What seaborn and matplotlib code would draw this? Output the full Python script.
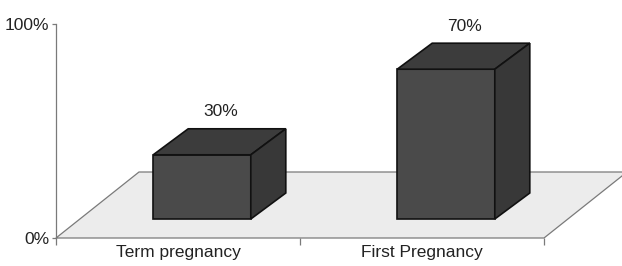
import matplotlib
matplotlib.use("Agg")
import matplotlib.pyplot as plt
import matplotlib.transforms as mtransforms
from matplotlib.patches import Polygon
import seaborn as sns
import pandas as pd

categories = ["Term pregnancy", "First Pregnancy"]
values = [30, 70]
value_labels = ["30%", "70%"]
ytick_values = [0, 100]
ytick_labels = ["0%", "100%"]

sns.set_theme(style="white")
plt.rcParams["font.family"] = ["Liberation Sans", "DejaVu Sans"]

DPI = 100
W, H = 622, 266
fig = plt.figure(figsize=(W / DPI, H / DPI), dpi=DPI)
ax = fig.add_axes([56 / W, 28 / H, 488 / W, 214 / H])

df = pd.DataFrame({"cat": categories, "val": values})
sns.barplot(data=df, x="cat", y="val", color="#4a4a4a", width=0.4,
            saturation=1, ax=ax, zorder=3)

ax.set_xlim(-0.5, 1.5)
ax.set_ylim(0, 100)
ax.set_xlabel("")
ax.set_ylabel("")

def px(dx, dy):
    return mtransforms.ScaledTranslation(dx / DPI, dy / DPI, fig.dpi_scale_trans)

# floor (front plane to back plane)
floor_depth = (83, 66)
x0, x1 = ax.get_xlim()
trans_data = ax.transData
pts = [trans_data.transform((x0, 0)), trans_data.transform((x1, 0))]
floor = [pts[0], pts[1],
         (pts[1][0] + floor_depth[0], pts[1][1] + floor_depth[1]),
         (pts[0][0] + floor_depth[0], pts[0][1] + floor_depth[1])]
ax.add_patch(Polygon(floor, closed=True, transform=None, facecolor="#ececec",
                     edgecolor="#7a7a7a", linewidth=0.9, zorder=1,
                     clip_on=False))

# bars moved to mid-depth, with 3D top and side faces
bar_shift = (24, 19)
bar_depth = (35, 26)
for p in list(ax.patches):
    if isinstance(p, Polygon):
        continue
    p.set_transform(ax.transData + px(*bar_shift))
    p.set_edgecolor("#111111")
    p.set_linewidth(1.2)
    p.set_clip_on(False)
    bx, bw, bh = p.get_x(), p.get_width(), p.get_height()
    tr = ax.transData + px(*bar_shift)
    fl = tr.transform((bx, bh))
    fr = tr.transform((bx + bw, bh))
    br = tr.transform((bx + bw, 0))
    dx, dy = bar_depth
    top = [fl, fr, (fr[0] + dx, fr[1] + dy), (fl[0] + dx, fl[1] + dy)]
    side = [fr, br, (br[0] + dx, br[1] + dy), (fr[0] + dx, fr[1] + dy)]
    ax.add_patch(Polygon(top, closed=True, transform=None, facecolor="#3c3c3c",
                         edgecolor="#111111", linewidth=1.2, zorder=4, clip_on=False))
    ax.add_patch(Polygon(side, closed=True, transform=None, facecolor="#383838",
                         edgecolor="#111111", linewidth=1.2, zorder=4, clip_on=False))

# value labels
for i, (v, lab) in enumerate(zip(values, value_labels)):
    ax.annotate(lab, xy=(i, v), xytext=(43 * 0.72, 62 * 0.72),
                textcoords="offset points", ha="center", va="center",
                fontsize=12.5, color="#222222", zorder=5)

# axes styling
for s in ["top", "right"]:
    ax.spines[s].set_visible(False)
ax.spines["left"].set_color("#7a7a7a")
ax.spines["left"].set_linewidth(0.9)
ax.spines["bottom"].set_visible(False)
ax.set_yticks(ytick_values)
ax.set_yticklabels(ytick_labels)
ax.tick_params(axis="y", length=3, width=0.9, color="#7a7a7a", pad=2,
               labelsize=12.5, labelcolor="#222222", direction="out", left=True)
ax.set_xticks(range(len(categories)))
ax.set_xticklabels(categories)
ax.tick_params(axis="x", which="major", length=0, pad=5, labelsize=12.5,
               labelcolor="#222222")
ax.set_xticks([-0.5, 0.5, 1.5], minor=True)
ax.tick_params(axis="x", which="minor", length=5, width=0.9, color="#7a7a7a",
               direction="out", bottom=True)
ax.set_facecolor("none")

fig.savefig("out.png", dpi=DPI)
